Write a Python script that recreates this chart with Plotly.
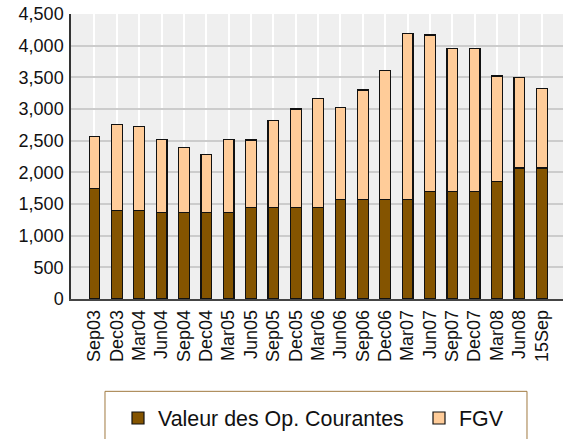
import plotly.graph_objects as go

categories = ["Sep03", "Dec03", "Mar04", "Jun04", "Sep04", "Dec04", "Mar05", "Jun05",
              "Sep05", "Dec05", "Mar06", "Jun06", "Sep06", "Dec06", "Mar07", "Jun07",
              "Sep07", "Dec07", "Mar08", "Jun08", "15Sep"]
valeur_op_courantes = [1750, 1400, 1400, 1370, 1370, 1370, 1370, 1450, 1450, 1450, 1450,
                       1570, 1570, 1570, 1570, 1700, 1700, 1700, 1850, 2070, 2070]
fgv = [810, 1350, 1320, 1150, 1020, 910, 1150, 1060, 1370, 1550, 1720,
       1460, 1730, 2040, 2620, 2470, 2260, 2250, 1670, 1430, 1250]
y_ticks = [0, 500, 1000, 1500, 2000, 2500, 3000, 3500, 4000, 4500]

font = "Liberation Sans, Arial, sans-serif"

fig = go.Figure()
fig.add_trace(go.Bar(
    x=categories, y=valeur_op_courantes, name="Valeur des Op. Courantes",
    marker=dict(color="#845400", line=dict(color="#111111", width=1.2)),
    width=0.48, legendwidth=256,
))
fig.add_trace(go.Bar(
    x=categories, y=fgv, name="FGV",
    marker=dict(color="#FFCC99", line=dict(color="#111111", width=1.2)),
    width=0.48,
))

# legend frame (paper coordinates)
fig.add_shape(type="rect", xref="paper", yref="paper",
              x0=0.0691, x1=0.9268, y0=-0.324, y1=-0.6,
              line=dict(color="#A07A40", width=1), fillcolor="rgba(0,0,0,0)")

fig.update_layout(
    barmode="stack",
    width=563, height=439,
    margin=dict(l=71, r=0, t=14, b=134, pad=0),
    paper_bgcolor="white",
    plot_bgcolor="#EFEFEF",
    font=dict(family=font, size=18, color="#111111"),
    showlegend=True,
    legend=dict(
        orientation="h",
        x=(118 - 71) / 492, xanchor="left",
        y=-0.346, yanchor="top",
        borderwidth=0,
        bgcolor="rgba(0,0,0,0)",
        font=dict(family=font, size=21.4, color="#111111"),
        traceorder="normal",
    ),
    xaxis=dict(
        type="category",
        range=[-1.05, 20.95],
        tickangle=-90,
        showgrid=True, gridcolor="#FFFFFF", gridwidth=1.5,
        showline=True, linecolor="#444444", linewidth=1.5,
        ticks="", ticklabelstandoff=2,
        automargin=False,
        tickfont=dict(family=font, size=18, color="#111111"),
    ),
    yaxis=dict(
        range=[0, 4500],
        tickvals=y_ticks,
        tickformat=",",
        showgrid=True, gridcolor="#CCCCCC", gridwidth=1.5,
        showline=True, linecolor="#333333", linewidth=1.5,
        zeroline=False,
        ticks="", ticklabelstandoff=2,
        automargin=False,
        tickfont=dict(family=font, size=18, color="#111111"),
    ),
)

fig.write_html("out.html", config={"displayModeBar": False},
               post_script="document.body.style.margin='0';")
